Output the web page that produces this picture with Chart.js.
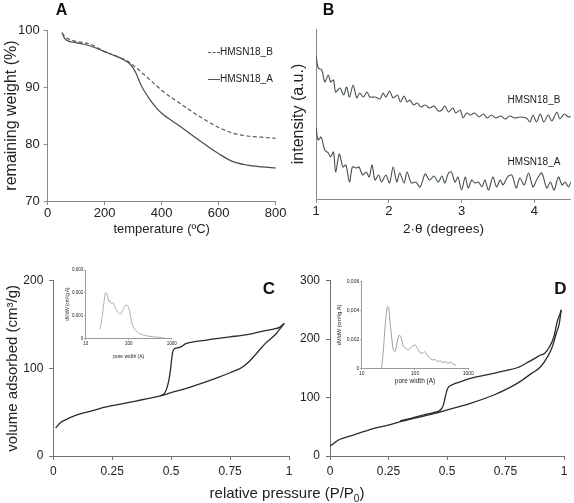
<!DOCTYPE html>
<html>
<head>
<meta charset="utf-8">
<script src="https://cdn.jsdelivr.net/npm/chart.js@4"></script>
<style>
  body { margin: 0; background: #fff; }
  #wrap { position: relative; width: 574px; height: 503px; overflow: hidden;
          font-family: "Liberation Sans", Arial, Helvetica, sans-serif; color: #222; }
  #wrap canvas { position: absolute; }
  .lbl { position: absolute; white-space: nowrap; line-height: 1; transform: translate(-50%, -50%);
         font-family: "Liberation Sans", Arial, Helvetica, sans-serif; }
  .panel { font-weight: bold; font-size: 16px; color: #111; }
  .tag { font-size: 10px; color: #222; }
  .key { position: absolute; width: 12px; height: 0; border-top: 1px solid #555; }
</style>
</head>
<body>
<div id="wrap">
  <canvas id="tga" width="295" height="240" style="left:0;top:0"></canvas>
  <canvas id="xrd" width="289" height="240" style="left:285px;top:0"></canvas>
  <canvas id="isoC" width="300" height="245" style="left:0;top:240px"></canvas>
  <canvas id="isoD" width="284" height="245" style="left:290px;top:240px"></canvas>
  <canvas id="psdC" width="120" height="105" style="left:60px;top:258px"></canvas>
  <canvas id="psdD" width="150" height="120" style="left:330px;top:268px"></canvas>

  <div class="lbl panel" style="left:61.5px;top:9.5px">A</div>
  <div class="lbl panel" style="left:328.5px;top:9.5px">B</div>
  <div class="lbl panel" style="left:269px;top:287.5px;font-size:17px">C</div>
  <div class="lbl panel" style="left:560.5px;top:287.5px;font-size:17px">D</div>

  <div class="key" style="left:208px;top:52px;border-top-style:dashed"></div>
  <div class="lbl tag" style="left:220px;top:52px;transform:translate(0,-50%)">HMSN18_B</div>
  <div class="key" style="left:208px;top:79px"></div>
  <div class="lbl tag" style="left:220px;top:79px;transform:translate(0,-50%)">HMSN18_A</div>

  <div class="lbl tag" style="left:534px;top:100px">HMSN18_B</div>
  <div class="lbl tag" style="left:534px;top:162px">HMSN18_A</div>

  <div class="lbl" style="left:287px;top:494px;font-size:15px">relative pressure (P/P<sub style="font-size:10px">0</sub>)</div>
</div>
<script>
// A: thermogravimetry
const tgaTemp = [50, 60, 75, 100, 125, 150, 175, 200, 225, 250, 270, 285, 300, 310, 320, 330, 340, 360, 380, 400, 450, 500, 550, 600, 650, 700, 750, 800];
const tgaB = [99.5, 98.9, 98.4, 98.0, 97.8, 97.5, 96.9, 96.2, 95.7, 95.2, 94.8, 94.4, 93.8, 93.4, 93.0, 92.5, 92.1, 91.2, 90.3, 89.4, 87.6, 85.9, 84.3, 82.9, 81.9, 81.4, 81.2, 81.0];
const tgaA = [99.5, 98.5, 98.0, 97.8, 97.5, 97.2, 96.7, 96.2, 95.7, 95.2, 94.7, 94.2, 93.3, 92.4, 91.2, 90.1, 89.2, 87.7, 86.4, 85.4, 83.6, 81.8, 80.0, 78.3, 76.9, 76.3, 76.0, 75.8];

// B: low angle XRD (arbitrary units)
const xrdBx = [1.00, 1.03, 1.08, 1.12, 1.17, 1.20, 1.24, 1.27, 1.33, 1.38, 1.42, 1.46, 1.51, 1.56, 1.60, 1.65, 1.70, 1.74, 1.81, 1.88, 1.92, 1.96, 2.01, 2.06, 2.12, 2.16, 2.21, 2.25, 2.29, 2.34, 2.39, 2.44, 2.50, 2.56, 2.62, 2.68, 2.73, 2.77, 2.82, 2.88, 2.92, 2.98, 3.02, 3.07, 3.12, 3.18, 3.24, 3.30, 3.35, 3.41, 3.47, 3.54, 3.60, 3.66, 3.73, 3.80, 3.89, 3.94, 3.98, 4.03, 4.08, 4.13, 4.19, 4.24, 4.31, 4.35, 4.41, 4.47, 4.50];
const xrdBy = [144, 131, 129, 117, 124, 117, 119, 107, 111, 104, 112, 102, 114, 101, 106, 102, 107, 102, 102, 100, 106, 102, 108, 101, 104, 97, 103, 97, 99, 94, 96, 92, 94, 91, 93, 88, 89, 93, 87, 91, 86, 89, 81, 86, 84, 86, 82, 85, 81, 84, 81, 83, 80, 83, 81, 82, 81, 77, 84, 77, 85, 77, 84, 78, 87, 80, 85, 82, 83];
const xrdAx = [1.00, 1.03, 1.07, 1.12, 1.17, 1.20, 1.24, 1.27, 1.32, 1.37, 1.41, 1.46, 1.50, 1.55, 1.59, 1.64, 1.69, 1.73, 1.77, 1.81, 1.86, 1.90, 1.96, 2.01, 2.06, 2.11, 2.15, 2.21, 2.25, 2.31, 2.37, 2.43, 2.50, 2.56, 2.62, 2.68, 2.73, 2.77, 2.82, 2.86, 2.91, 2.95, 3.00, 3.05, 3.09, 3.14, 3.18, 3.23, 3.28, 3.32, 3.37, 3.43, 3.48, 3.53, 3.57, 3.63, 3.69, 3.75, 3.80, 3.86, 3.92, 3.98, 4.03, 4.10, 4.17, 4.22, 4.27, 4.33, 4.38, 4.42, 4.47, 4.50];
const xrdAy = [71, 59, 62, 49, 46, 42, 47, 27, 45, 32, 34, 17, 32, 31, 32, 24, 27, 22, 34, 19, 24, 17, 24, 16, 32, 17, 26, 16, 27, 16, 17, 12, 25, 19, 23, 17, 23, 16, 26, 27, 17, 22, 9, 22, 11, 19, 16, 17, 12, 19, 9, 22, 12, 19, 14, 22, 24, 11, 21, 14, 26, 12, 19, 26, 11, 17, 9, 22, 14, 17, 12, 17];

// C: N2 isotherm, HMSN18_A
const isoCAdsX = [0.01, 0.03, 0.05, 0.1, 0.15, 0.2, 0.25, 0.3, 0.35, 0.4, 0.45, 0.5, 0.55, 0.6, 0.65, 0.7, 0.75, 0.8, 0.83, 0.86, 0.9, 0.94, 0.98];
const isoCAdsY = [32, 38, 41, 46.8, 50.6, 54.4, 57.4, 60, 62.7, 65.4, 68.2, 72.2, 76, 80.2, 84.8, 89.7, 95, 101, 107.6, 116.3, 128.5, 138, 151.3];
const isoCDesX = [0.98, 0.96, 0.93, 0.9, 0.85, 0.8, 0.75, 0.7, 0.65, 0.6, 0.56, 0.545, 0.53, 0.515, 0.507, 0.502, 0.497, 0.49, 0.48, 0.47, 0.455];
const isoCDesY = [151.3, 146.8, 144.5, 143, 140, 137.6, 136, 134.2, 132.3, 130.4, 128, 125, 123.5, 122.5, 119, 110, 98, 86, 76, 71, 68.5];

// D: N2 isotherm, HMSN18_B
const isoDAdsX = [0, 0.02, 0.036, 0.06, 0.1, 0.15, 0.2, 0.25, 0.3, 0.4, 0.5, 0.6, 0.7, 0.8, 0.86, 0.9, 0.93, 0.95, 0.967, 0.98, 0.988];
const isoDAdsY = [17, 22.8, 27.4, 31, 35.9, 42.5, 48.5, 53, 58.7, 68.4, 78.7, 90.1, 104.4, 124.3, 141, 152.8, 170, 187, 210, 227, 250];
const isoDDesX = [0.988, 0.981, 0.971, 0.957, 0.938, 0.917, 0.9, 0.875, 0.85, 0.8, 0.75, 0.7, 0.6, 0.55, 0.526, 0.508, 0.5, 0.493, 0.485, 0.475, 0.462, 0.44, 0.4, 0.35, 0.3];
const isoDDesY = [250, 241, 230, 204, 187, 175.6, 172.8, 167, 161.4, 151, 146, 141.4, 132.9, 126, 122.6, 118.6, 113, 101.5, 88, 80, 76.5, 74, 70.5, 65, 60];

// insets: pore size distributions
const psdCW = [21.8, 24.8, 28.6, 31.3, 34.3, 36.2, 38.9, 43.4, 49.3, 59.1, 64.7, 74.8, 84.9, 96.4, 107, 122, 146, 192, 276, 396, 570, 684];
const psdCV = [0.0004, 0.0011, 0.002, 0.00195, 0.00161, 0.00168, 0.00154, 0.00157, 0.00132, 0.0011, 0.00107, 0.00127, 0.00146, 0.00143, 0.0011, 0.00059, 0.00034, 0.00018, 0.0001, 0.00006, 0.00003, 0.00001];
const psdDW = [23.7, 25.5, 27.8, 30.3, 32.1, 35, 39.2, 42.2, 46.6, 50.8, 55.4, 60.4, 67.8, 75, 86.6, 100, 112, 124, 139, 152, 170, 191, 214, 237, 262, 294, 330, 370, 415, 466, 523, 587];
const psdDV = [0, 0.00127, 0.00312, 0.00427, 0.00415, 0.00277, 0.00127, 0.00115, 0.00185, 0.00231, 0.00208, 0.0015, 0.00138, 0.00127, 0.0015, 0.00162, 0.00138, 0.00108, 0.00104, 0.00115, 0.00092, 0.00069, 0.00058, 0.00062, 0.00046, 0.00053, 0.00039, 0.00046, 0.00035, 0.00042, 0.00028, 0.00023];

const poreTicks = [10, 100, 1000];

Chart.defaults.font.family = '"Liberation Sans", Arial, Helvetica, sans-serif';
Chart.defaults.color = '#222';

function pts(xs, ys) {
  return xs.map((x, i) => ({ x: x, y: ys[i] }));
}

function line(xs, ys, color, width, extra) {
  return Object.assign({
    data: pts(xs, ys), showLine: true, borderColor: color, borderWidth: width,
    pointRadius: 0, fill: false, tension: 0.3
  }, extra || {});
}

// an axis with just its line and short outward ticks, fixed thickness
function axis(o) {
  const a = {
    type: o.type || 'linear', min: o.min, max: o.max,
    ticks: {
      display: o.labels !== false, padding: o.pad || 0, font: { size: o.size || 12 },
      color: '#222', includeBounds: false, autoSkip: false, maxRotation: 0,
      callback: o.fmt || (v => String(v))
    },
    grid: { drawOnChartArea: false, drawTicks: !!o.tick, tickLength: o.tick || 0, color: o.line, lineWidth: 1 },
    border: { display: true, color: o.line, width: 1 },
    title: o.title ? { display: true, text: o.title, color: '#222', font: { size: o.titleSize }, padding: o.titlePad }
                   : { display: false },
    afterFit: s => { if (s.isHorizontal()) s.height = o.fit; else s.width = o.fit; }
  };
  if (o.step) a.ticks.stepSize = o.step;
  if (o.ticksAt) a.afterBuildTicks = s => { s.ticks = o.ticksAt.map(v => ({ value: v })); };
  return a;
}

function plot(id, datasets, pad, x, y) {
  new Chart(document.getElementById(id), {
    type: 'scatter',
    data: { datasets: datasets },
    options: {
      responsive: false, animation: false, events: [],
      layout: { padding: pad },
      plugins: { legend: { display: false }, tooltip: { enabled: false } },
      scales: { x: x, y: y }
    }
  });
}

const smooth = { tension: 0, cubicInterpolationMode: 'monotone' };

// A
plot('tga', [
  line(tgaTemp, tgaB, '#5a5a5a', 1.2, Object.assign({ borderDash: [4, 2.5] }, smooth)),
  line(tgaTemp, tgaA, '#4a4a4a', 1.2, smooth)
], { top: 30, right: 19.3, left: 0, bottom: 0 },
  axis({ min: 0, max: 800, step: 200, tick: 4, pad: 1, size: 13, line: '#8a8a8a', fit: 39,
         title: 'temperature (ºC)', titleSize: 13, titlePad: { top: 0, bottom: 3.2 } }),
  axis({ min: 70, max: 100, step: 10, tick: 4, pad: 4, size: 13, line: '#8a8a8a', fit: 47.7,
         title: 'remaining weight (%)', titleSize: 16, titlePad: { top: 2.4, bottom: 0 } }));

// B
plot('xrd', [
  line(xrdBx, xrdBy, '#46514c', 1.1),
  line(xrdAx, xrdAy, '#46514c', 1.1)
], { top: 29, right: 3.2, left: 0, bottom: 0 },
  axis({ min: 1, max: 4.5, step: 1, tick: 4, pad: 1, size: 13, line: '#8a8a8a', fit: 41,
         title: '2·θ (degrees)', titleSize: 13.5, titlePad: { top: 0, bottom: 2.9 } }),
  axis({ min: 0, max: 170, labels: false, line: '#8a8a8a', fit: 31,
         title: 'intensity (a.u.)', titleSize: 16, titlePad: { top: 3.7, bottom: 0 } }));

// C
plot('isoC', [
  line(isoCAdsX, isoCAdsY, '#2b2b2b', 1.3, smooth),
  line(isoCDesX, isoCDesY, '#2b2b2b', 1.3, smooth)
], { top: 40.7, right: 11, left: 0, bottom: 0 },
  axis({ min: 0, max: 1, step: 0.25, tick: 4, pad: 4, size: 12, line: '#707070', fit: 29 }),
  axis({ min: 0, max: 200, step: 100, tick: 4, pad: 6, size: 12, line: '#707070', fit: 53.3,
         title: 'volume adsorbed (cm³/g)', titleSize: 15, titlePad: { top: 3.5, bottom: 0 } }));

// D
plot('isoD', [
  line(isoDAdsX, isoDAdsY, '#2b2b2b', 1.3, smooth),
  line(isoDDesX, isoDDesY, '#2b2b2b', 1.3, smooth)
], { top: 40.7, right: 10, left: 0, bottom: 0 },
  axis({ min: 0, max: 1, step: 0.25, tick: 4, pad: 4, size: 12, line: '#707070', fit: 29 }),
  axis({ min: 0, max: 300, step: 100, tick: 4, pad: 6, size: 12, line: '#707070', fit: 40 }));

// inset C
plot('psdC', [
  line(psdCW, psdCV, '#a7b1aa', 1, { tension: 0.2 })
], { top: 12, right: 8.3, left: 0, bottom: 0 },
  axis({ type: 'logarithmic', min: 10, max: 1000, ticksAt: poreTicks, tick: 1.5, pad: 1, size: 4.5,
         line: '#9a9a9a', fit: 24.7, title: 'pore width (A)', titleSize: 5, titlePad: { top: 0, bottom: 3 } }),
  axis({ min: 0, max: 0.003, step: 0.001, tick: 1.5, pad: 1, size: 4.5, line: '#9a9a9a', fit: 25.7,
         fmt: v => (v === 0 ? '0' : v.toFixed(3)),
         title: 'dV/dW (cm³/g A)', titleSize: 4.5, titlePad: { top: 5.3, bottom: 0 } }));

// inset D
plot('psdD', [
  line(psdDW, psdDV, '#98a59d', 1, { tension: 0.25 })
], { top: 13.7, right: 11.7, left: 0, bottom: 0 },
  axis({ type: 'logarithmic', min: 10, max: 1000, ticksAt: poreTicks, tick: 1.5, pad: 0.5, size: 5,
         line: '#9a9a9a', fit: 19.7, title: 'pore width (A)', titleSize: 6.5, titlePad: { top: 0, bottom: 2.4 } }),
  axis({ min: 0, max: 0.006, step: 0.002, tick: 1.5, pad: 1, size: 5, line: '#9a9a9a', fit: 31.7,
         fmt: v => (v === 0 ? '0' : v.toFixed(3).replace('.', ',')),
         title: 'dV/dW (cm³/g A)', titleSize: 5.5, titlePad: { top: 5.7, bottom: 0 } }));
</script>
</body>
</html>
